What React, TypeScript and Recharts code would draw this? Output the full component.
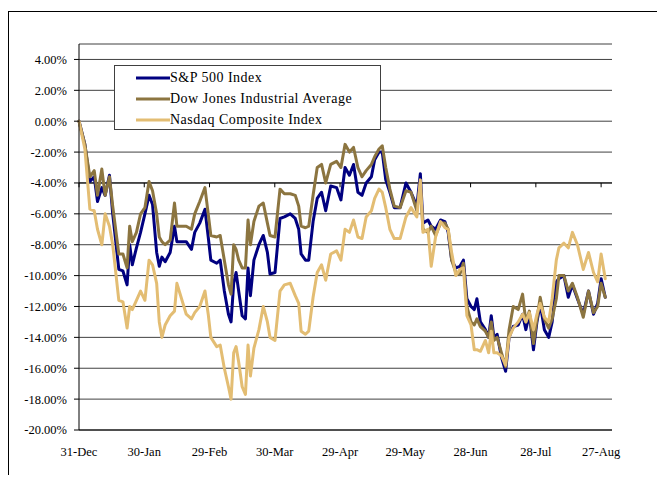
import { LineChart, Line, XAxis, YAxis, CartesianGrid, ReferenceLine } from 'recharts';

// days since 31-Dec
const days = [
  0, 2.7, 5, 7, 8.5, 10.5, 12, 14, 15.5, 18.3,
  20.2, 22.1, 23.3, 24.5, 26.4, 28.3, 30.3, 32.2, 33.8, 35.7,
  36.9, 38.1, 39.6, 41.9, 43.9, 45, 49.3, 51.7, 53.2, 55.5,
  57.9, 59.4, 60.6, 63.3, 64.9, 66.8, 68.7, 69.9, 71.1, 72.2,
  73.4, 75, 76.5, 77.7, 78.8, 80.4, 82.7, 84.7, 86.6, 87.8,
  90.1, 92.4, 94.4, 97.1, 99.4, 101, 102.1, 104.1, 105.6, 107.6,
  109.5, 111.5, 113.4, 115.7, 118.4, 120.4, 122.3, 124.3, 126.2, 128.2,
  130.1, 132, 134.4, 135.9, 137.9, 139.4, 141, 142.9, 144.9, 147.6,
  150.3, 152.6, 155.3, 156.9, 158.1, 160.4, 161.9, 163.9, 166.2, 168.2,
  169.7, 171.3, 173.2, 175.1, 176.7, 178.3, 180.2, 181.7, 182.9, 184.5,
  186.8, 188.3, 189.5, 190.7, 192.2, 194.2, 196.1, 197.7, 199.6, 201.9,
  203.9, 205.4, 207, 208.9, 210.5, 212, 213.9, 215.9, 217.5, 219.4,
  220.6, 222.9, 224.9, 226.8, 229.1, 231.8, 234.2, 236.5, 238.4, 240, 241.9,
];

const sp500 = [
  0, -1.5, -3.9, -3.6, -5.2, -4.3, -4.8, -3.5, -6.0, -9.6,
  -9.7, -10.6, -8.0, -9.3, -8.2, -7.2, -6.0, -4.8, -5.4, -8.5,
  -9.4, -8.8, -9.1, -8.5, -6.8, -7.8, -7.8, -8.3, -7.2, -6.6,
  -5.7, -7.5, -9.0, -9.2, -9.0, -11.0, -12.5, -13.0, -10.5, -9.8,
  -11.0, -12.6, -12.8, -9.5, -11.3, -9.0, -8.0, -7.4, -8.5, -9.9,
  -9.8, -6.3, -6.2, -6.0, -6.3, -7.0, -8.6, -9.0, -9.0, -6.5,
  -5.0, -4.6, -5.8, -4.2, -4.3, -5.1, -3.0, -3.5, -2.8, -4.6,
  -4.8, -4.0, -3.6, -2.5, -2.0, -2.0, -3.8, -4.6, -5.6, -5.6,
  -4.0, -4.6, -5.5, -3.4, -6.6, -6.4, -6.8, -7.0, -6.4, -6.5,
  -7.2, -9.0, -9.5, -9.4, -9.0, -11.5, -12.0, -12.2, -11.5, -13.0,
  -13.5, -14.0, -12.6, -14.0, -13.8, -15.3, -16.2, -14.0, -13.3, -13.2,
  -12.5, -13.5, -12.5, -14.8, -13.0, -11.8, -13.5, -14.0, -13.0, -10.4,
  -10.2, -10.0, -11.4, -10.6, -11.5, -12.5, -11.0, -12.5, -11.8, -10.2, -11.4,
];

const dowJones = [
  0, -1.5, -3.6, -3.2, -4.8, -3.1, -4.8, -3.6, -5.5, -8.6,
  -8.6, -9.5, -6.8, -7.8, -7.2, -6.0, -5.6, -3.9, -4.5, -6.0,
  -7.5, -7.8, -8.0, -7.7, -5.3, -6.8, -6.8, -7.0, -6.0, -5.2,
  -4.3, -6.0, -7.4, -7.5, -7.4, -9.0, -10.6, -11.2, -8.0, -8.3,
  -9.0, -9.5, -9.5, -6.4, -8.0, -6.5, -5.5, -5.3, -6.6, -7.4,
  -7.5, -4.4, -4.7, -4.7, -4.8, -5.5, -6.8, -6.9, -6.8, -4.8,
  -3.0, -2.8, -4.0, -2.8, -2.6, -3.0, -1.5, -2.0, -1.7, -3.0,
  -3.6, -3.2, -2.8, -2.3, -1.8, -1.6, -3.0, -4.4, -5.5, -5.6,
  -4.5, -4.6, -5.8, -4.0, -7.0, -7.2, -6.8, -7.4, -6.6, -6.6,
  -7.0, -9.0, -9.8, -9.9, -9.2, -12.0, -13.0, -13.2, -12.8, -13.3,
  -13.6, -14.0, -13.0, -14.2, -14.0, -15.0, -15.9, -13.5, -12.0, -12.2,
  -11.2, -13.0, -12.3, -14.4, -12.8, -11.4, -12.8, -13.4, -12.8, -11.5,
  -10.0, -10.0, -11.0, -10.5, -11.4, -12.7, -11.0, -12.4, -12.0, -10.5, -11.4,
];

const nasdaq = [
  0, -1.8, -5.7, -5.8, -7.0, -8.0, -6.0, -6.8, -8.0, -11.6,
  -11.7, -13.4, -12.0, -12.2, -11.6, -11.0, -11.6, -9.0, -9.3, -10.5,
  -13.0, -14.0, -13.2, -12.6, -12.3, -10.5, -12.5, -12.8, -12.4, -12.0,
  -11.0, -12.5, -14.0, -14.6, -14.5, -16.0, -17.2, -18.0, -15.0, -14.6,
  -15.6, -17.2, -17.7, -14.5, -16.5, -14.7, -13.5, -12.0, -13.0, -14.0,
  -14.2, -11.0, -10.6, -10.5, -11.3, -11.8, -13.6, -13.8, -13.6, -11.4,
  -9.8, -9.3, -10.3, -8.6, -8.4, -9.0, -7.0, -7.2, -6.4, -7.5,
  -7.6, -6.2, -5.8, -5.0, -4.4, -4.6, -5.6, -7.0, -7.6, -7.6,
  -6.2, -5.6, -6.2, -3.8, -7.2, -7.0, -9.4, -7.5, -6.5, -6.9,
  -7.0, -8.5, -10.0, -9.6, -9.5, -12.6, -13.2, -14.8, -14.8, -14.9,
  -14.2, -15.0, -13.6, -15.0, -15.0, -15.2, -15.8, -14.0, -13.4, -13.0,
  -12.5, -13.0, -12.4, -13.5, -12.5, -11.8, -12.7, -13.0, -11.5, -9.0,
  -8.2, -7.9, -8.2, -7.2, -8.0, -9.6, -8.5, -9.8, -10.4, -8.6, -10.2,
];

const xTicks = [0, 30, 60, 90, 120, 150, 180, 210, 240];
const xLabels = ['31-Dec', '30-Jan', '29-Feb', '30-Mar', '29-Apr', '29-May', '28-Jun', '28-Jul', '27-Aug'];
const yTicks = [-20, -18, -16, -14, -12, -10, -8, -6, -4, -2, 0, 2, 4];

const seriesNames = ['S&P 500 Index', 'Dow Jones Industrial Average', 'Nasdaq Composite Index'];
const seriesColors = ['#000080', '#8c7540', '#e3bd73'];

const data = days.map((d, i) => ({
  day: d,
  sp: sp500[i],
  dow: dowJones[i],
  nas: nasdaq[i],
}));

const FONT = '"Liberation Serif", "Times New Roman", serif';

const LegendBox = () => (
  <div
    style={{
      position: 'absolute',
      left: 114,
      top: 65,
      width: 267,
      height: 65,
      border: '1px solid #404040',
      background: '#fff',
      boxSizing: 'border-box',
      fontFamily: FONT,
      fontSize: 14,
      letterSpacing: 0.5,
      color: '#000',
      paddingTop: 1,
    }}
  >
    {seriesNames.map((name, i) => (
      <div key={name} style={{ display: 'flex', alignItems: 'center', height: 21 }}>
        <svg width={55} height={6} style={{ flexShrink: 0 }}>
          <line x1={21} y1={3} x2={55} y2={3} stroke={seriesColors[i]} strokeWidth={3} />
        </svg>
        <span style={{ whiteSpace: 'nowrap' }}>{name}</span>
      </div>
    ))}
  </div>
);

export default function App() {
  return (
    <div style={{ position: 'relative', width: 657, height: 467, overflow: 'hidden' }}>
      <div
        style={{
          position: 'absolute',
          left: 0,
          top: 3,
          width: 700,
          height: 600,
          borderLeft: '1px solid #000',
          borderTop: '1px solid #000',
        }}
      />
      <div style={{ position: 'absolute', left: -8, top: -8, width: 665, height: 483 }}>
        <LineChart
          width={665}
          height={483}
          data={data}
          margin={{ top: 44, right: 53, bottom: 23, left: 0 }}
        >
          <CartesianGrid horizontal vertical={false} stroke="#404040" strokeWidth={1} />
          <XAxis
            xAxisId="top"
            orientation="top"
            dataKey="day"
            type="number"
            domain={[0, 245]}
            ticks={xTicks}
            tick={false}
            tickLine={false}
            axisLine={{ stroke: '#555' }}
            height={0}
          />
          <XAxis
            dataKey="day"
            type="number"
            domain={[0, 245]}
            ticks={xTicks}
            tickFormatter={(v) => xLabels[xTicks.indexOf(v)]}
            tickLine={false}
            tickSize={0}
            tickMargin={17}
            axisLine={{ stroke: '#000' }}
            height={30}
            tick={{ fill: '#000', fontFamily: FONT, fontSize: 12.5 }}
          />
          <YAxis
            type="number"
            domain={[-20, 5]}
            ticks={yTicks}
            allowDataOverflow
            tickFormatter={(v) => v.toFixed(2) + '%'}
            tickSize={5}
            tickMargin={7}
            tickLine={{ stroke: '#000' }}
            axisLine={{ stroke: '#000' }}
            width={79}
            tick={{ fill: '#000', fontFamily: FONT, fontSize: 12.5 }}
          />
          <YAxis
            yAxisId="right"
            orientation="right"
            type="number"
            domain={[-20, 5]}
            tick={false}
            tickLine={false}
            axisLine={{ stroke: '#555' }}
            width={0}
          />
          <ReferenceLine y={-4} stroke="#000" strokeWidth={1} />
          {xTicks.map((t) => (
            <ReferenceLine
              key={t}
              segment={[{ x: t, y: -4 }, { x: t, y: -4.28 }]}
              stroke="#000"
              strokeWidth={1}
            />
          ))}
          <Line dataKey="sp" name={seriesNames[0]} stroke={seriesColors[0]} strokeWidth={3} strokeLinejoin="round" strokeLinecap="round" dot={false} isAnimationActive={false} />
          <Line dataKey="dow" name={seriesNames[1]} stroke={seriesColors[1]} strokeWidth={3} strokeLinejoin="round" strokeLinecap="round" dot={false} isAnimationActive={false} />
          <Line dataKey="nas" name={seriesNames[2]} stroke={seriesColors[2]} strokeWidth={3} strokeLinejoin="round" strokeLinecap="round" dot={false} isAnimationActive={false} />
        </LineChart>
        <LegendBox />
      </div>
    </div>
  );
}
